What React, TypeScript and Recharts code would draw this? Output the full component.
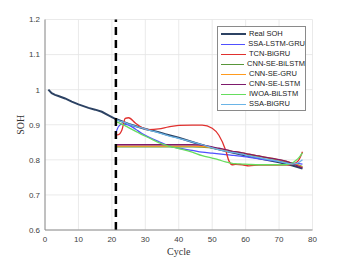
import React from 'react';
import { LineChart, Line, XAxis, YAxis, CartesianGrid, ReferenceLine } from 'recharts';

const realCycles = [1, 2, 3, 4, 6, 8, 10, 13, 15, 17, 19, 21, 25, 30, 34, 36, 40, 45, 50, 55, 60, 65, 70, 74, 77];
const realSoh = [1.0, 0.99, 0.985, 0.982, 0.975, 0.966, 0.958, 0.948, 0.943, 0.937, 0.927, 0.917, 0.902, 0.888, 0.879, 0.873, 0.863, 0.848, 0.834, 0.823, 0.812, 0.802, 0.793, 0.784, 0.775];

const predCycles = [21, 22, 23, 24, 25, 27, 29, 31, 34, 37, 40, 44, 47, 50, 52, 54, 55, 56, 57, 59, 61, 64, 68, 72, 74, 75, 76, 77];

const ssaLstmGru = [0.872, 0.895, 0.902, 0.901, 0.899, 0.888, 0.875, 0.865, 0.852, 0.84, 0.833, 0.827, 0.822, 0.819, 0.817, 0.815, 0.814, 0.813, 0.812, 0.81, 0.807, 0.803, 0.798, 0.793, 0.791, 0.79, 0.789, 0.788];
const tcnBigru = [0.871, 0.872, 0.885, 0.918, 0.92, 0.905, 0.892, 0.886, 0.888, 0.894, 0.898, 0.899, 0.899, 0.89, 0.87, 0.828, 0.797, 0.786, 0.787, 0.786, 0.783, 0.785, 0.785, 0.785, 0.787, 0.791, 0.801, 0.823];
const cnnSeBilstm = [0.837, 0.837, 0.837, 0.837, 0.837, 0.837, 0.837, 0.837, 0.837, 0.837, 0.837, 0.837, 0.836, 0.834, 0.83, 0.827, 0.825, 0.823, 0.822, 0.819, 0.815, 0.81, 0.803, 0.795, 0.79, 0.787, 0.784, 0.781];
const cnnSeGru = [0.839, 0.839, 0.839, 0.839, 0.839, 0.839, 0.839, 0.839, 0.839, 0.839, 0.839, 0.839, 0.838, 0.835, 0.831, 0.828, 0.826, 0.824, 0.823, 0.82, 0.816, 0.811, 0.804, 0.796, 0.79, 0.787, 0.783, 0.779];
const cnnSeLstm = [0.843, 0.843, 0.843, 0.843, 0.843, 0.843, 0.843, 0.843, 0.843, 0.843, 0.843, 0.843, 0.842, 0.837, 0.833, 0.829, 0.827, 0.824, 0.823, 0.82, 0.816, 0.811, 0.804, 0.796, 0.789, 0.785, 0.781, 0.777];
const iwoaBilstm = [0.909, 0.906, 0.902, 0.897, 0.892, 0.882, 0.872, 0.863, 0.849, 0.839, 0.832, 0.822, 0.812, 0.805, 0.8, 0.794, 0.792, 0.79, 0.789, 0.788, 0.787, 0.786, 0.786, 0.786, 0.791, 0.798, 0.807, 0.82];
const ssaBigru = [0.915, 0.912, 0.909, 0.906, 0.902, 0.896, 0.891, 0.885, 0.877, 0.868, 0.861, 0.851, 0.843, 0.834, 0.829, 0.825, 0.823, 0.821, 0.82, 0.816, 0.811, 0.806, 0.799, 0.791, 0.788, 0.789, 0.793, 0.8];

const xTicks = [0, 10, 20, 30, 40, 50, 60, 70, 80];
const yTicks = [0.6, 0.7, 0.8, 0.9, 1.0, 1.1, 1.2];
const splitCycle = 21.2;

const series = [
  { key: 'ssaLstmGru', name: 'SSA-LSTM-GRU', color: '#5050ff', vals: ssaLstmGru },
  { key: 'tcnBigru', name: 'TCN-BiGRU', color: '#e0302e', vals: tcnBigru },
  { key: 'cnnSeBilstm', name: 'CNN-SE-BiLSTM', color: '#58963a', vals: cnnSeBilstm },
  { key: 'cnnSeGru', name: 'CNN-SE-GRU', color: '#ff9b1e', vals: cnnSeGru },
  { key: 'cnnSeLstm', name: 'CNN-SE-LSTM', color: '#7e1a6c', vals: cnnSeLstm },
  { key: 'iwoaBilstm', name: 'IWOA-BiLSTM', color: '#66dd5e', vals: iwoaBilstm },
  { key: 'ssaBigru', name: 'SSA-BiGRU', color: '#6ab4e6', vals: ssaBigru },
];

const allCycles = Array.from(new Set([...realCycles, ...predCycles])).sort((a, b) => a - b);
const tableData = allCycles.map(c => {
  const row: Record<string, number | null> = { cycle: c };
  const ri = realCycles.indexOf(c);
  row.real = ri >= 0 ? realSoh[ri] : null;
  const pi = predCycles.indexOf(c);
  series.forEach(s => {
    row[s.key] = pi >= 0 ? s.vals[pi] : null;
  });
  return row;
});

const legendItems = [{ name: 'Real SOH', color: '#2c4263' }, ...series.map(s => ({ name: s.name, color: s.color }))];

const tickFont = { fontFamily: 'Liberation Sans, Arial, sans-serif', fontSize: 8, fill: '#404040' };

const LegendBox = () => (
  <div style={{ position: 'absolute', left: 217, top: 26, border: '1px solid #8a8a8a', background: '#fff', padding: '2px 0 1px 0', width: 89, boxSizing: 'border-box' }}>
    {legendItems.map(it => (
      <div key={it.name} style={{ display: 'flex', alignItems: 'center', height: 10 }}>
        <div style={{ width: 25, height: 0, borderTop: `${it.name === 'Real SOH' ? 2 : 1.5}px solid ${it.color}`, marginLeft: 3, marginRight: 3 }} />
        <span style={{ fontFamily: 'Liberation Sans, Arial, sans-serif', fontSize: 7.5, lineHeight: '10px', color: '#222', whiteSpace: 'nowrap' }}>{it.name}</span>
      </div>
    ))}
  </div>
);

export default function App() {
  return (
    <div style={{ position: 'absolute', left: 0, top: 0, width: 346, height: 259, background: '#fff' }}>
      <LineChart width={346} height={259} data={tableData} margin={{ top: 19.5, right: 33.5, bottom: 0, left: 0 }}>
        <CartesianGrid stroke="#e4e4e4" strokeWidth={0.8} />
        <XAxis
          dataKey="cycle"
          type="number"
          domain={[0, 80]}
          ticks={xTicks}
          height={29}
          tick={tickFont}
          tickLine={false}
          tickSize={4}
          axisLine={{ stroke: '#8c8c8c', strokeWidth: 1 }}
          label={{
            content: () => (
              <text x={178.75} y={255} textAnchor="middle" style={{ fontFamily: 'Liberation Serif, Times New Roman, serif', fontSize: 10, fill: '#333' }}>Cycle</text>
            ),
          }}
        />
        <XAxis xAxisId="top" orientation="top" dataKey="cycle" type="number" domain={[0, 80]} ticks={xTicks} height={0} tick={false} tickLine={false} axisLine={{ stroke: '#8c8c8c', strokeWidth: 1 }} />
        <YAxis
          type="number"
          domain={[0.6, 1.2]}
          ticks={yTicks}
          width={45}
          tick={tickFont}
          tickLine={false}
          tickSize={3}
          tickFormatter={(v: number) => String(Number(v.toFixed(1)))}
          axisLine={{ stroke: '#8c8c8c', strokeWidth: 1 }}
          label={{
            content: () => (
              <text x={24} y={124.75} textAnchor="middle" transform="rotate(-90 24 124.75)" style={{ fontFamily: 'Liberation Serif, Times New Roman, serif', fontSize: 10, fill: '#333' }}>SOH</text>
            ),
          }}
        />
        <YAxis yAxisId="right" orientation="right" type="number" domain={[0.6, 1.2]} ticks={yTicks} width={0} tick={false} tickLine={false} axisLine={{ stroke: '#8c8c8c', strokeWidth: 1 }} />
        <Line dataKey="real" name="Real SOH" stroke="#2c4263" strokeWidth={2} dot={false} type="linear" connectNulls isAnimationActive={false} />
        {series.map(s => (
          <Line key={s.key} dataKey={s.key} name={s.name} stroke={s.color} strokeWidth={1.3} dot={false} type="monotone" connectNulls isAnimationActive={false} />
        ))}
        <ReferenceLine x={splitCycle} stroke="#000" strokeWidth={2.5} strokeDasharray="8 5" />
      </LineChart>
      <LegendBox />
    </div>
  );
}
